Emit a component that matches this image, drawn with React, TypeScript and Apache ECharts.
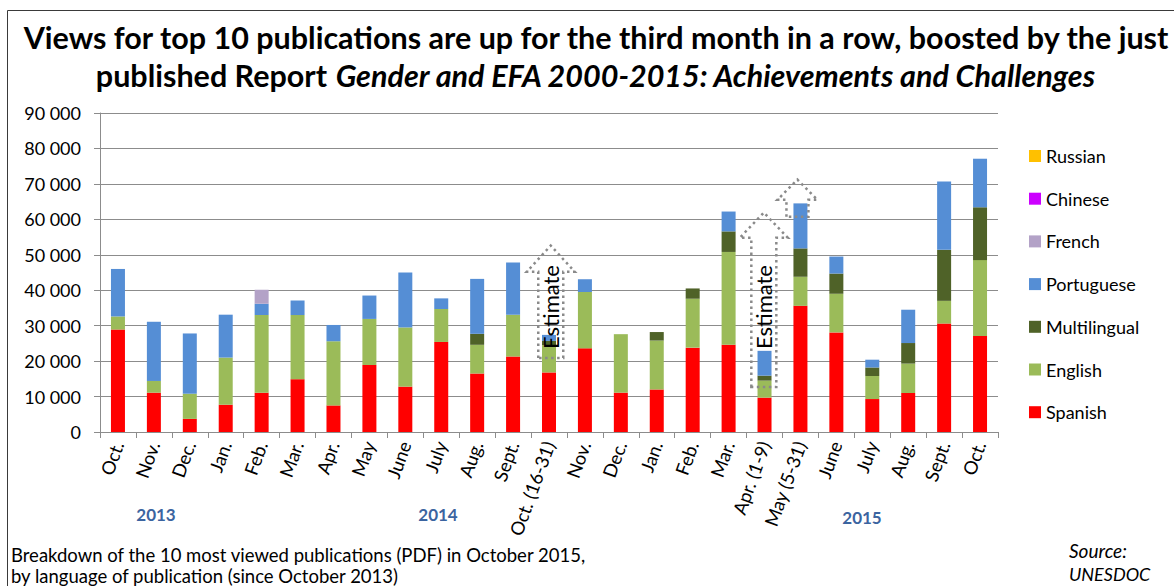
import React, { useEffect, useRef } from "react";
import * as echarts from "echarts";

const categories = ["Oct.", "Nov.", "Dec.", "Jan.", "Feb.", "Mar.", "Apr.", "May", "June", "July", "Aug.", "Sept.", "Oct. (16-31)", "Nov.", "Dec.", "Jan.", "Feb.", "Mar.", "Apr. (1-9)", "May (5-31)", "June", "July", "Aug.", "Sept.", "Oct."];
const spanish = [28900, 11100, 3700, 7700, 11100, 14900, 7500, 18900, 12800, 25400, 16500, 21300, 16800, 23600, 11100, 12000, 23800, 24600, 9700, 35600, 28100, 9300, 11000, 30600, 27100];
const english = [3700, 3300, 7100, 13300, 21900, 18100, 18100, 13000, 16700, 9300, 8100, 11800, 7700, 15900, 16500, 13800, 13800, 26200, 4800, 8200, 10900, 6500, 8300, 6400, 21400];
const multilingual = [0, 0, 0, 0, 0, 0, 0, 0, 0, 0, 3100, 0, 1200, 0, 0, 2400, 2900, 5800, 1400, 8000, 5700, 2400, 5800, 14400, 14900];
const portuguese = [13400, 16700, 17000, 12100, 3200, 4100, 4600, 6600, 15500, 3000, 15500, 14700, 1700, 3600, 0, 0, 0, 5600, 7000, 12700, 4800, 2200, 9400, 19300, 13700];
const french = [0, 0, 0, 0, 3900, 0, 0, 0, 0, 0, 0, 0, 0, 0, 0, 0, 0, 0, 0, 0, 0, 0, 0, 0, 0];
const chinese = [0, 0, 0, 0, 0, 0, 0, 0, 0, 0, 0, 0, 0, 0, 0, 0, 0, 0, 0, 0, 0, 0, 0, 0, 0];
const russian = [0, 0, 0, 0, 0, 0, 0, 0, 0, 0, 0, 0, 0, 0, 0, 0, 0, 0, 0, 0, 0, 0, 0, 0, 0];
const legendOrder = ["Russian", "Chinese", "French", "Portuguese", "Multilingual", "English", "Spanish"];
const yearLabels = ["2013", "2014", "2015"];
// estimate arrows: category index, bottom value, head base value, tip value
const estimateArrows = [
  { cat: 12, bottom: 20900, base: 45200, tip: 52600, label: true },
  { cat: 18, bottom: 12700, base: 54800, tip: 61900, label: true },
  { cat: 19, bottom: 60700, base: 65500, tip: 71200, label: false },
];

const FONT = "Lato, 'Open Sans', sans-serif";

export default function App() {
  const ref = useRef<HTMLDivElement>(null);
  useEffect(() => {
    document.body.style.margin = "0";
    const chart = echarts.init(ref.current!, null, { renderer: "svg" });
    const mk = (name: string, data: number[], color: string) => ({
      name,
      type: "bar",
      stack: "all",
      data,
      barWidth: 14,
      itemStyle: { color },
      emphasis: { disabled: true },
    });
    chart.setOption({
      animation: false,
      textStyle: { fontFamily: FONT },
      grid: { left: 100, right: 176, top: 113, bottom: 154, containLabel: false },
      legend: {
        orient: "vertical",
        left: 1029,
        top: 147,
        padding: 0,
        itemWidth: 12,
        itemHeight: 12,
        itemGap: 24.7,
        icon: "rect",
        data: legendOrder,
        textStyle: { fontSize: 18, color: "#000", fontFamily: FONT, lineHeight: 16 },
      },
      xAxis: {
        type: "category",
        data: categories,
        axisLine: { lineStyle: { color: "#8c8c8c", width: 1 } },
        axisTick: { show: true, length: 6, lineStyle: { color: "#8c8c8c" } },
        axisLabel: { rotate: 70, margin: 10, fontSize: 18.5, color: "#000", fontFamily: FONT, interval: 0 },
      },
      yAxis: {
        type: "value",
        min: 0,
        max: 90000,
        interval: 10000,
        axisLine: { show: true, lineStyle: { color: "#8c8c8c", width: 1 } },
        axisTick: { show: true, length: 6, lineStyle: { color: "#8c8c8c" } },
        splitLine: { lineStyle: { color: "#8c8c8c", width: 1 } },
        axisLabel: {
          fontSize: 18,
          color: "#000",
          margin: 19,
          fontFamily: FONT,
          formatter: (v: number) => (v === 0 ? "0" : String(v).replace(/(\d)(?=(\d{3})+$)/g, "$1 ")),
        },
      },
      series: [
        mk("Spanish", spanish, "#FF0000"),
        mk("English", english, "#9BBB59"),
        mk("Multilingual", multilingual, "#4F6228"),
        mk("Portuguese", portuguese, "#558ED5"),
        mk("French", french, "#B3A2C7"),
        mk("Chinese", chinese, "#CC00FF"),
        mk("Russian", russian, "#FFC000"),
      ],
    });

    const px = (i: number, v: number) => chart.convertToPixel({ gridIndex: 0 }, [i, v]) as number[];
    const graphics: any[] = [];
    graphics.push({
      type: "rect",
      shape: { x: 7.5, y: 10.5, width: 1400, height: 800 },
      style: { fill: "none", stroke: "#3a3a3a", lineWidth: 1 },
      silent: true,
    });
    graphics.push({
      type: "text",
      x: 596,
      y: 37,
      style: {
        text: "Views for top 10 publications are up for the third month in a row, boosted by the just",
        fontFamily: FONT,
        fontWeight: "bold",
        fontSize: 30.5,
        fill: "#000",
        align: "center",
        verticalAlign: "middle",
      },
    });
    graphics.push({
      type: "text",
      x: 596,
      y: 75,
      style: {
        text: "{a|published Report }{b|Gender and EFA 2000-2015: Achievements and Challenges}",
        align: "center",
        verticalAlign: "middle",
        rich: {
          a: { fontFamily: FONT, fontWeight: "bold", fontSize: 30.5, fill: "#000" },
          b: { fontFamily: FONT, fontWeight: "bold", fontStyle: "italic", fontSize: 30.5, fill: "#000" },
        },
      },
    });
    const yearX = [156, 438, 862];
    const yearY = [514, 514, 517];
    yearLabels.forEach((t, k) => {
      graphics.push({
        type: "text",
        x: yearX[k],
        y: yearY[k],
        style: { text: t, fontFamily: FONT, fontWeight: "bold", fontSize: 17, fill: "#3B64A0", align: "center", verticalAlign: "middle" },
      });
    });
    graphics.push({
      type: "text",
      x: 11,
      y: 555,
      style: { text: "Breakdown of the 10 most viewed publications (PDF) in October 2015,", fontFamily: FONT, fontSize: 18.5, fill: "#000", verticalAlign: "middle" },
    });
    graphics.push({
      type: "text",
      x: 11,
      y: 576,
      style: { text: "by language of publication (since October 2013)", fontFamily: FONT, fontSize: 18.5, fill: "#000", verticalAlign: "middle" },
    });
    graphics.push({
      type: "text",
      x: 1069,
      y: 550,
      style: { text: "Source:", fontFamily: FONT, fontStyle: "italic", fontSize: 19, fill: "#000", verticalAlign: "middle" },
    });
    graphics.push({
      type: "text",
      x: 1069,
      y: 574,
      style: { text: "UNESDOC", fontFamily: FONT, fontStyle: "italic", fontSize: 18, fill: "#000", verticalAlign: "middle" },
    });
    const offsets = [1.75, -0.7, -3];
    const hbs = [12.5, 12.5, 11];
    const hhs = [24, 24, 20];
    estimateArrows.forEach((a, k) => {
      const [cx0, yb] = px(a.cat, a.bottom);
      const cx = cx0 + offsets[k];
      const yBase = px(a.cat, a.base)[1];
      const yTip = px(a.cat, a.tip)[1];
      const hb = hbs[k];
      const hh = hhs[k];
      graphics.push({
        type: "polygon",
        z: 100,
        shape: {
          points: [
            [cx - hb, yb],
            [cx - hb, yBase],
            [cx - hh, yBase],
            [cx, yTip],
            [cx + hh, yBase],
            [cx + hb, yBase],
            [cx + hb, yb],
          ],
        },
        style: { fill: "none", stroke: "#8a8a8a", lineWidth: 2.5, lineDash: [2.5, 3.5] },
        silent: true,
      });
      if (a.label) {
        graphics.push({
          type: "text",
          z: 101,
          x: cx,
          y: 307,
          rotation: Math.PI / 2,
          style: { text: "Estimate", fontFamily: FONT, fontSize: 22, fill: "#000", align: "center", verticalAlign: "middle" },
        });
      }
    });
    chart.setOption({ graphic: graphics });
    return () => chart.dispose();
  }, []);
  return <div ref={ref} style={{ width: 1174, height: 586 }} />;
}
